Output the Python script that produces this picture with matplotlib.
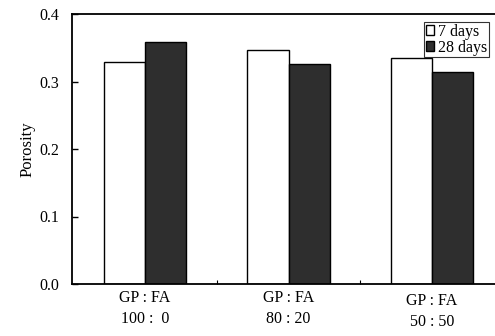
import matplotlib
matplotlib.use("Agg")
import matplotlib.pyplot as plt
import numpy as np
from matplotlib.transforms import blended_transform_factory
from matplotlib.patches import Patch

plt.rcParams['font.family'] = ['Liberation Serif', 'DejaVu Serif']

categories = ["GP : FA\n100 :  0", "GP : FA\n80 : 20", "GP : FA\n50 : 50"]
days7 = [0.329, 0.347, 0.335]
days28 = [0.358, 0.326, 0.314]
series_labels = ["7 days", "28 days"]
yticks = [0.0, 0.1, 0.2, 0.3, 0.4]

fig = plt.figure(figsize=(4.95, 3.36), dpi=100)
ax = fig.add_axes([72/495, 52/336, (505-72)/495, 270/336])

x = np.arange(len(categories))
w = 0.286
ax.bar(x - w/2, days7, w, color='white', edgecolor='black', linewidth=1.0, label=series_labels[0])
ax.bar(x + w/2, days28, w, color='#2e2e2e', edgecolor='black', linewidth=1.0, label=series_labels[1])

ax.set_xlim(-0.509, 2.509)
ax.set_ylim(0, 0.4)
ax.set_yticks(yticks)
ax.set_yticklabels([f"{v:.1f}" for v in yticks], fontsize=11.5)
ax.tick_params(axis='y', direction='in', length=4, width=1.0, pad=9)
ax.set_xticks([0.5, 1.5])
ax.set_xticklabels([])
ax.tick_params(axis='x', direction='in', length=3, width=0.8)
ax.set_ylabel("Porosity", fontsize=12, labelpad=3)

for s in ['left', 'bottom', 'top', 'right']:
    ax.spines[s].set_linewidth(1.3)

trans = blended_transform_factory(ax.transData, fig.transFigure)
yoffs = [0, 0, -3]
for i, lab in enumerate(categories):
    ax.text(x[i], (336 - 290 + yoffs[i]) / 336, lab, transform=trans, ha='center', va='top',
            fontsize=11.5, linespacing=1.4)

handles = [Patch(facecolor='white', edgecolor='black', label=series_labels[0]),
           Patch(facecolor='#2e2e2e', edgecolor='black', label=series_labels[1])]
leg = ax.legend(handles=handles, loc='upper left', bbox_to_anchor=((424-72)/(505-72), (284-22)/270),
                fontsize=11.5, frameon=True, fancybox=False, handlelength=0.55, handleheight=0.55,
                handletextpad=0.25, borderpad=0.1, labelspacing=0.0, borderaxespad=0)
leg.get_frame().set_edgecolor('black')
leg.get_frame().set_linewidth(0.8)

fig.savefig("out.png", dpi=100)
